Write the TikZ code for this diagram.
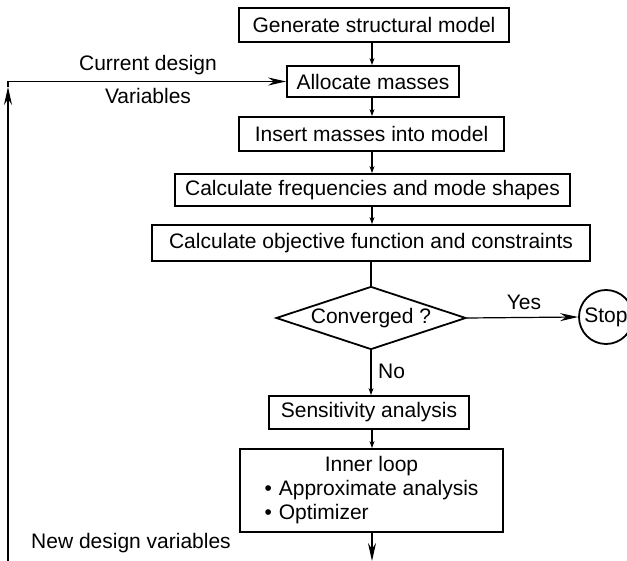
\documentclass[tikz,border=0pt]{standalone}
\usepackage{fontspec}
\setmainfont{Liberation Sans}
\usetikzlibrary{shapes.geometric,arrows.meta}
\newcommand{\bigbul}{\textbullet\hspace{7pt}}
\begin{document}
\begin{tikzpicture}[x=1pt,y=-1pt,
  every node/.style={font=\fontsize{21}{24}\selectfont, inner sep=0pt},
  stepbox/.style={draw, line width=1.8pt, rectangle, align=center},
  conn/.style={line width=1.2pt},
  arr/.style={conn, -{Stealth[length=7pt,width=5pt]}},
  bigarr/.style={conn, -{Stealth[length=18pt,width=8pt]}},
  lbl/.style={}
]
\useasboundingbox (0,0) rectangle (627,561);
\coordinate (trunk) at (372,0);

\node[stepbox, minimum width=270, minimum height=34] (gen) at (374,25) {Generate structural model};
\node[stepbox, minimum width=172, minimum height=31] (alloc) at (373,81.5) {Allocate masses};
\node[stepbox, minimum width=265, minimum height=34] (insert) at (371.5,134) {Insert masses into model};
\node[stepbox, minimum width=395, minimum height=32] (freq) at (372.5,190) {Calculate frequencies and mode shapes};
\node[stepbox, minimum width=438, minimum height=36] (obj) at (371,243) {Calculate objective function and constraints};
\node[draw, line width=1.8pt, diamond, aspect=3, minimum width=190, minimum height=63] (conv) at (371,318) {Converged ?};
\node[draw, line width=1.8pt, circle, minimum size=54] (stop) at (606,317) {Stop};
\node[stepbox, minimum width=200, minimum height=33] (sens) at (369,412.5) {Sensitivity analysis};
\node[stepbox, minimum width=263, minimum height=83] (inner) at (371.5,490.5)
  {\begin{tabular}{@{}l@{}}\multicolumn{1}{@{}c@{}}{Inner loop}\\ \bigbul Approximate analysis\\ \bigbul Optimizer\end{tabular}};

\node[lbl] (cur) at (148,65) {Current design};
\node[lbl] (var) at (148,96) {Variables};
\node[lbl] (yes) at (524,302) {Yes};
\node[lbl, anchor=west] (no) at (378,371) {No};
\node[lbl] (newdv) at (131,543) {New design variables};

\coordinate (bl) at (8,561);
\coordinate (upa) at (8,87);
\coordinate (tl) at (8,81.5);

\draw[arr] (gen.south -| trunk) -- (alloc.north -| trunk);
\draw[arr] (alloc.south -| trunk) -- (insert.north -| trunk);
\draw[arr] (insert.south -| trunk) -- (freq.north -| trunk);
\draw[arr] (freq.south -| trunk) -- (obj.north -| trunk);
\draw[conn] (obj.south -| conv.north) -- (conv.north);
\draw[arr] (conv.south) -- (sens.north -| conv.south);
\draw[bigarr] (conv.east) -- (stop.west);
\draw[arr] (sens.south -| trunk) -- (inner.north -| trunk);
\draw[bigarr] (inner.south -| trunk) -- (trunk |- bl);
\draw[bigarr] (bl) -- (upa);
\draw[conn] (upa) -- (tl);
\draw[bigarr] (tl) -- (alloc.west);
\end{tikzpicture}
\end{document}
